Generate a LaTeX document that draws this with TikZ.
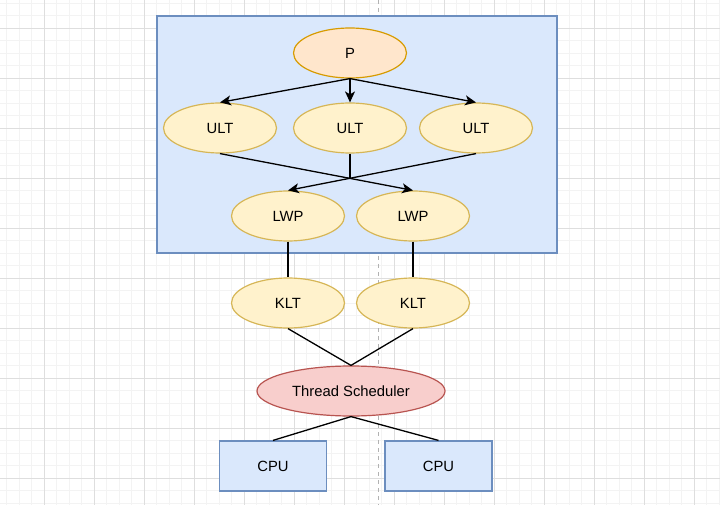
\documentclass[tikz,border=0pt]{standalone}
\usepackage{fontspec}
\setmainfont{Liberation Sans}
\usetikzlibrary{shapes.geometric,arrows.meta}
\definecolor{boxfill}{HTML}{DAE8FC}
\definecolor{boxline}{HTML}{6C8EBF}
\definecolor{procfill}{HTML}{FFE6CC}
\definecolor{procline}{HTML}{D79B00}
\definecolor{thrfill}{HTML}{FFF2CC}
\definecolor{thrline}{HTML}{D6B656}
\definecolor{schedfill}{HTML}{F8CECC}
\definecolor{schedline}{HTML}{B85450}
\definecolor{gridminor}{HTML}{F3F3F3}
\definecolor{gridmajor}{HTML}{DEDEDE}

\begin{document}
\begin{tikzpicture}[x=1pt,y=-1pt,
    every node/.style={font=\fontsize{14.8}{17}\selectfont},
    oval/.style={ellipse,line width=1.2pt,minimum width=113pt,minimum height=50pt,inner sep=0pt},
    thr/.style={oval,draw=thrline,fill=thrfill},
    proc/.style={oval,draw=procline,fill=procfill},
    sched/.style={oval,draw=schedline,fill=schedfill,minimum width=188pt},
    cpu/.style={rectangle,draw=boxline,fill=boxfill,line width=1.2pt,minimum width=107pt,minimum height=50pt,inner sep=0pt},
    link/.style={line width=1.3pt},
    arr/.style={link,-{Stealth[length=11pt,width=10pt,inset=3pt]}}]
        \useasboundingbox (0,0) rectangle (720,505);
        \fill[white] (0,0) rectangle (720,505);

        % background grid
        \foreach \x in {6.5,19,...,720}
            \draw[gridminor,line width=0.8pt] (\x,0) -- (\x,505);
        \foreach \y in {3,15.5,...,505}
            \draw[gridminor,line width=0.8pt] (0,\y) -- (720,\y);
        \foreach \x in {44,94,...,720}
            \draw[gridmajor,line width=0.8pt] (\x,0) -- (\x,505);
        \foreach \y in {28,78,...,505}
            \draw[gridmajor,line width=0.8pt] (0,\y) -- (720,\y);
        \draw[gray!60,line width=0.8pt,dash pattern=on 4pt off 4pt] (378.5,0) -- (378.5,505);

        % user space
        \draw[boxline,fill=boxfill,line width=1.2pt] (157,16) rectangle (557,253);

        \node[proc] (p) at (350,53) {P};
        \node[thr] (u1) at (220,128) {ULT};
        \node[thr] (u2) at (350,128) {ULT};
        \node[thr] (u3) at (476,128) {ULT};
        \node[thr] (l1) at (288,216) {LWP};
        \node[thr] (l2) at (413,216) {LWP};
        \node[thr] (k1) at (288,303) {KLT};
        \node[thr] (k2) at (413,303) {KLT};
        \node[sched] (ts) at (351,391) {Thread Scheduler};
        \node[cpu] (c1) at (273,466) {CPU};
        \node[cpu] (c2) at (438.5,466) {CPU};

        \draw[arr] (p.south) -- (u1.north);
        \draw[arr] (p.south) -- (u2.north);
        \draw[arr] (p.south) -- (u3.north);
        \draw[arr] (u1.south) -- (l2.north);
        \draw[arr] (u3.south) -- (l1.north);
        \coordinate (cross) at (intersection of u1.south--l2.north and u3.south--l1.north);
        \draw[link] (u2.south) -- (u2.south |- cross);

        \draw[link] (l1.south) -- (k1.north);
        \draw[link] (l2.south) -- (k2.north);
        \draw[link] (k1.south) -- (ts.north);
        \draw[link] (k2.south) -- (ts.north);
        \draw[link] (ts.south) -- (c1.north);
        \draw[link] (ts.south) -- (c2.north);
    \end{tikzpicture}
\end{document}
